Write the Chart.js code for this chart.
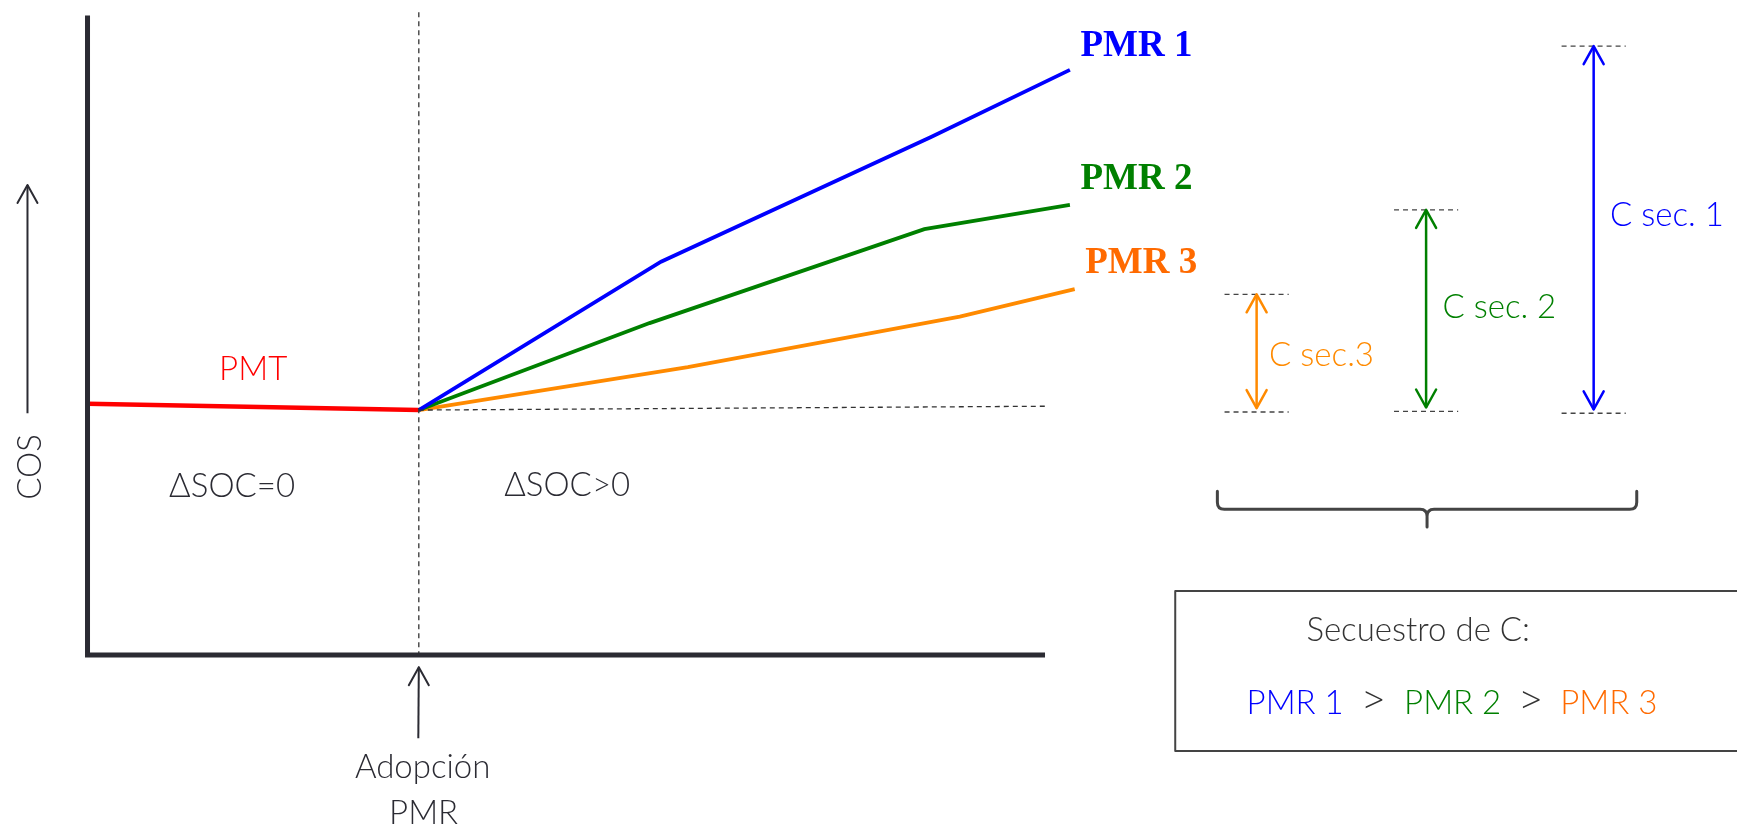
<!DOCTYPE html>
<html><head><meta charset="utf-8">
<script src="https://cdn.jsdelivr.net/npm/chart.js@4.4.0/dist/chart.umd.min.js"></script>
<style>html,body{margin:0;padding:0;background:#fff;overflow:hidden}canvas{display:block}</style>
</head><body>
<canvas id="c" width="1737" height="831"></canvas>
<script>
// ---------- data (conceptual units: x = time, y = COS) ----------
const adoptionX = 34.6;
const pmtX = [0, 34.6];
const pmtY = [39.3, 38.3];
const pmr1X = [34.6, 59.9, 88.1, 102.6];
const pmr1Y = [38.3, 61.5, 81.0, 91.5];
const pmr2X = [34.6, 58.7, 87.4, 102.6];
const pmr2Y = [38.3, 51.9, 66.6, 70.4];
const pmr3X = [34.6, 62.7, 91.1, 103.1];
const pmr3Y = [38.3, 45.0, 52.9, 57.2];
const baselineX = [34.6, 100.1];
const baselineY = [38.3, 38.9];
const seriesNames = ['PMR 1', 'PMR 2', 'PMR 3'];
const secNames = ['C sec.3', 'C sec. 2', 'C sec. 1'];
const secX = [122.1, 139.8, 157.3];
const secTop = [56.4, 69.6, 95.2];
const secBottom = [38.0, 38.1, 37.8];
const regionLabels = ['ΔSOC=0', 'ΔSOC>0'];
const axisLabels = ['COS', 'Adopción', 'PMR'];

const BLUE = '#0000ff', GREEN = '#008000', ORANGE = '#ff8a00', RED = '#ff0000';
const ORANGE_TXT = '#ff6a00', DARK = '#2b2b33';
const secColors = [ORANGE, GREEN, BLUE];

const pts = (xs, ys) => xs.map((x, i) => ({x, y: ys[i]}));

// sec guide dashes (top and bottom) with gaps between them
const secDash = [];
secX.forEach((x, i) => {
  secDash.push({x: x - 3.35, y: secTop[i]}, {x: x + 3.35, y: secTop[i]}, {x: x, y: null});
  secDash.push({x: x - 3.35, y: secBottom[i]}, {x: x + 3.35, y: secBottom[i]}, {x: x, y: null});
});

const line = (data, color, width, dash) => ({
  data, showLine: true, borderColor: color, borderWidth: width, borderDash: dash || [],
  pointRadius: 0, fill: false, tension: 0, spanGaps: false, borderCapStyle: 'butt', borderJoinStyle: 'miter'
});

const datasets = [
  line([{x: 0, y: 100}, {x: 0, y: 0}, {x: 100, y: 0}], DARK, 5),
  line([{x: adoptionX, y: 100.5}, {x: adoptionX, y: 0}], '#333', 1.3, [5, 4]),
  line(pts(baselineX, baselineY), '#333', 1.3, [5, 4]),
  line(secDash, '#444', 1.3, [5, 4]),
  line(pts(pmr1X, pmr1Y), BLUE, 3.8),
  line(pts(pmr2X, pmr2Y), GREEN, 3.8),
  line(pts(pmr3X, pmr3Y), ORANGE, 3.8),
  line(pts(pmtX, pmtY), RED, 4.5),
];
secX.forEach((x, i) => datasets.push(line([{x, y: secTop[i]}, {x, y: secBottom[i] + 0.6}], secColors[i], 2.5)));

const FONT = "'Lato', 'Open Sans', sans-serif";

const overlay = {
  id: 'overlay',
  afterDatasetsDraw(chart) {
    const {ctx, scales: {x: sx, y: sy}} = chart;
    const X = v => sx.getPixelForValue(v), Y = v => sy.getPixelForValue(v);
    ctx.save();
    const head = (x, y, dir, color, lw) => {
      ctx.strokeStyle = color; ctx.lineWidth = lw; ctx.lineCap = 'round'; ctx.lineJoin = 'round';
      ctx.beginPath();
      ctx.moveTo(x - 10, y - dir * 18); ctx.lineTo(x, y); ctx.lineTo(x + 10, y - dir * 18);
      ctx.stroke();
    };
    // double arrows heads
    secX.forEach((x, i) => {
      head(X(x), Y(secTop[i]), -1, secColors[i], 2.5);
      head(X(x), Y(secBottom[i] + 0.6), 1, secColors[i], 2.5);
    });
    // COS arrow
    ctx.strokeStyle = DARK; ctx.lineWidth = 2; ctx.lineCap = 'butt';
    ctx.beginPath(); ctx.moveTo(X(-6.27), Y(37.8)); ctx.lineTo(X(-6.27), Y(73.5)); ctx.stroke();
    head(X(-6.27), Y(73.5), -1, DARK, 2);
    // Adopcion arrow
    ctx.lineCap = 'butt';
    ctx.beginPath(); ctx.moveTo(X(adoptionX) - 0.5, Y(-13.0)); ctx.lineTo(X(adoptionX), Y(-1.9)); ctx.stroke();
    head(X(adoptionX), Y(-1.9), -1, DARK, 2);

    // brace
    const L = X(118.0), C = X(139.9), R = X(161.8), top = Y(25.6), mid = Y(22.8), tip = Y(20.0), r = 7;
    ctx.strokeStyle = '#444'; ctx.lineWidth = 3; ctx.lineCap = 'round'; ctx.lineJoin = 'round';
    ctx.beginPath();
    ctx.moveTo(L, top); ctx.lineTo(L, mid - r); ctx.quadraticCurveTo(L, mid, L + r, mid);
    ctx.lineTo(C - r, mid); ctx.quadraticCurveTo(C, mid, C, mid + r); ctx.lineTo(C, tip);
    ctx.moveTo(C, mid + r); ctx.quadraticCurveTo(C, mid, C + r, mid);
    ctx.lineTo(R - r, mid); ctx.quadraticCurveTo(R, mid, R, mid - r); ctx.lineTo(R, top);
    ctx.stroke();

    // box
    ctx.strokeStyle = '#444'; ctx.lineWidth = 2;
    ctx.strokeRect(X(113.6), Y(10.0), X(176) - X(113.6), Y(-15.0) - Y(10.0));

    // texts
    const txt = (s, x, y, color, font, align) => {
      ctx.fillStyle = color; ctx.font = font; ctx.textAlign = align || 'center'; ctx.textBaseline = 'middle';
      ctx.fillText(s, x, y);
    };
    const F = '300 33px ' + FONT;
    const GT = "300 36px 'Open Sans', sans-serif";
    const SERIF = "bold 37px 'Liberation Serif', 'DejaVu Serif', serif";
    txt(seriesNames[0], X(103.7), Y(95.1), BLUE, SERIF, 'left');
    txt(seriesNames[1], X(103.7), Y(74.3), GREEN, SERIF, 'left');
    txt(seriesNames[2], X(104.2), Y(61.3), ORANGE_TXT, SERIF, 'left');
    txt('PMT', X(17.3), Y(44.6), RED, F);
    txt(regionLabels[0], X(15.1), Y(26.3), DARK, F);
    txt(regionLabels[1], X(50.1), Y(26.6), DARK, F);
    txt(axisLabels[1], X(35.0), Y(-17.5), DARK, F);
    txt(axisLabels[2], X(35.1), Y(-24.7), DARK, F);
    ctx.save();
    ctx.translate(X(-6.0), Y(29.4)); ctx.rotate(-Math.PI / 2);
    txt(axisLabels[0], 0, 0, DARK, F);
    ctx.restore();
    txt(secNames[0], X(123.4), Y(46.9), ORANGE, F, 'left');
    txt(secNames[1], X(141.5), Y(54.3), GREEN, F, 'left');
    txt(secNames[2], X(159.0), Y(68.8), BLUE, F, 'left');
    txt('Secuestro de C:', X(127.3), Y(3.9), '#333', F, 'left');
    txt(seriesNames[0], X(121.05), Y(-7.5), BLUE, F, 'left');
    txt('>', X(133.3), Y(-7.5), '#333', GT, 'left');
    txt(seriesNames[1], X(137.5), Y(-7.5), GREEN, F, 'left');
    txt('>', X(149.7), Y(-7.5), '#333', GT, 'left');
    txt(seriesNames[2], X(153.8), Y(-7.5), ORANGE_TXT, F, 'left');
    ctx.restore();
  }
};

new Chart(document.getElementById('c'), {
  type: 'scatter',
  data: {datasets},
  options: {
    responsive: false, animation: false, devicePixelRatio: 1,
    layout: {padding: 0},
    plugins: {legend: {display: false}, tooltip: {enabled: false}},
    scales: {
      x: {type: 'linear', display: false, min: -9.14, max: 172.27},
      y: {type: 'linear', display: false, min: -27.52, max: 102.42}
    }
  },
  plugins: [overlay]
});
</script>
</body></html>
